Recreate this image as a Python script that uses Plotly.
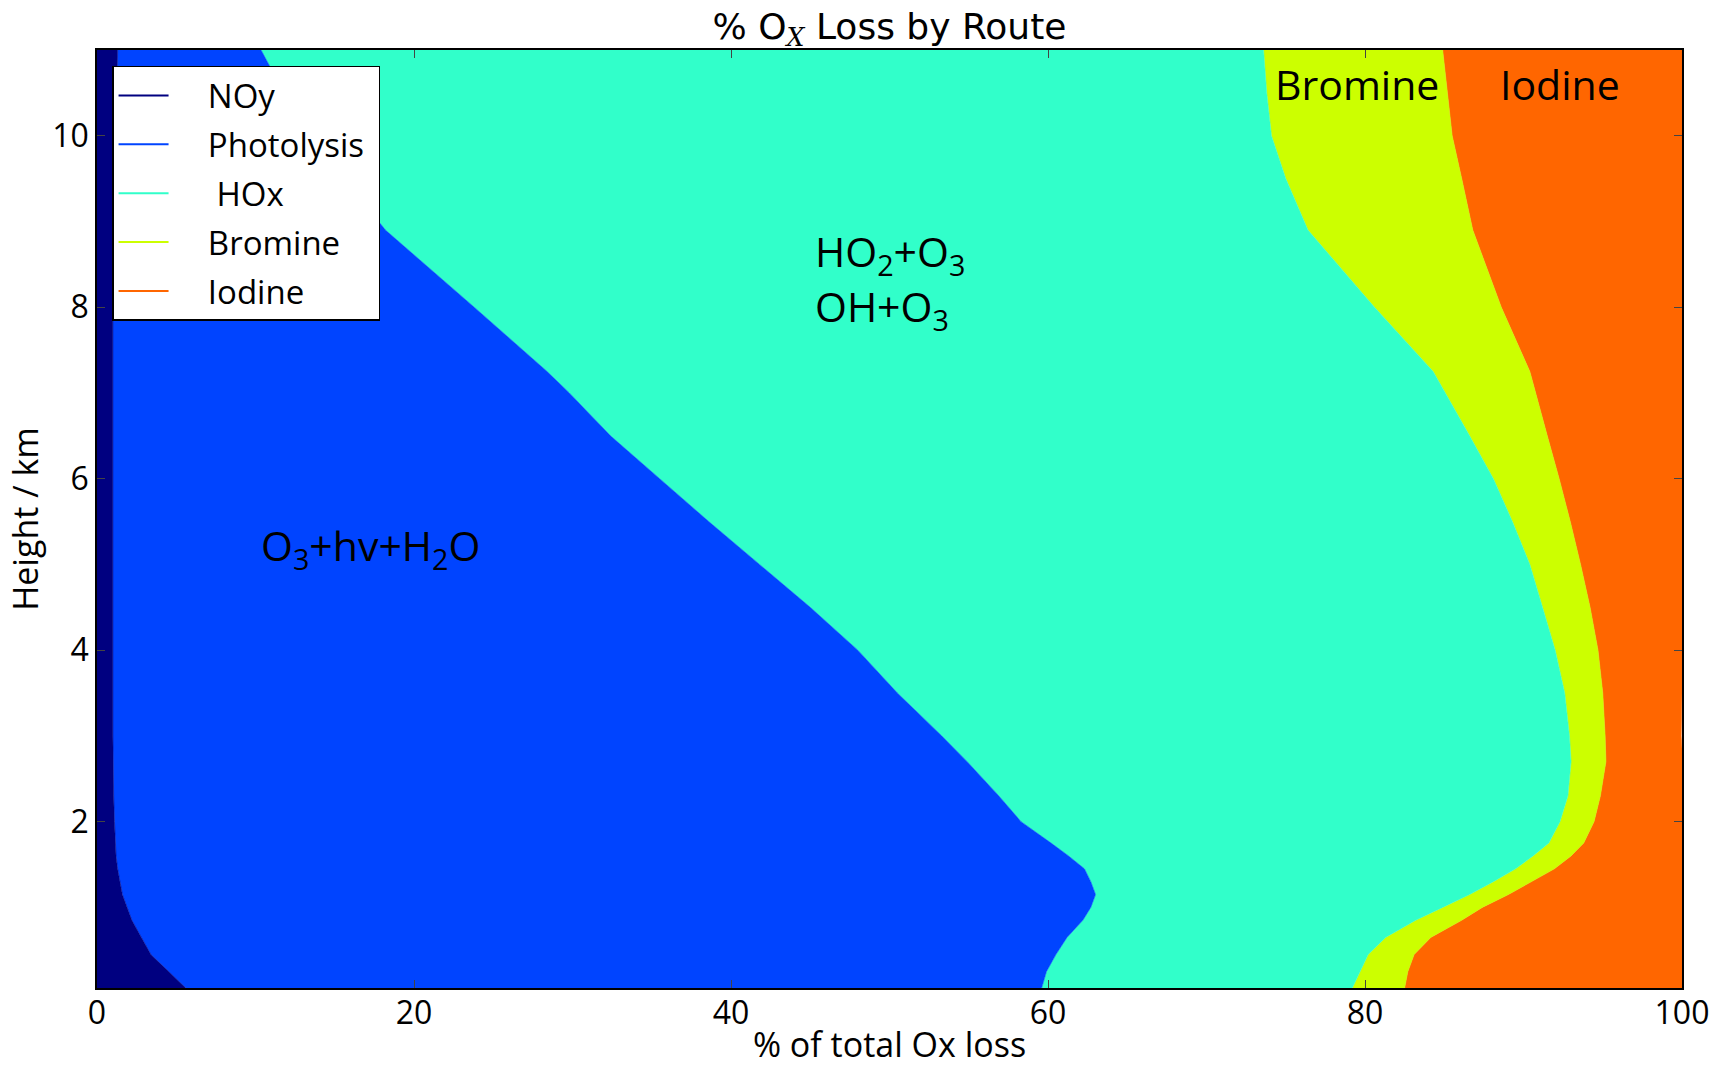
import plotly.graph_objects as go

# Heights (km)
heights = [0.06, 0.25, 0.45, 0.65, 0.85, 1.0, 1.15, 1.3, 1.45, 1.6, 1.75, 2.0, 2.3, 2.7, 3.0,
           3.5, 4.0, 4.5, 5.0, 5.5, 6.0, 6.5, 7.0, 7.25, 8.0, 8.9, 9.5, 10.0, 10.5, 11.0]

# % of total Ox loss by route
noy = [5.6, 4.5, 3.4, 2.8, 2.2, 1.9, 1.6, 1.45, 1.3, 1.2, 1.15, 1.1, 1.05, 1.0, 1.0,
       1.0, 1.0, 1.0, 1.0, 1.0, 1.0, 1.0, 1.0, 1.0, 1.0, 1.1, 1.15, 1.2, 1.25, 1.3]
photolysis = [54.0, 55.4, 57.1, 58.4, 60.0, 60.8, 61.4, 61.25, 61.0, 60.1, 59.05, 57.2, 55.85, 53.9, 52.3,
              49.5, 47.0, 44.0, 40.8, 37.6, 34.5, 31.4, 28.8, 27.4, 22.8, 17.1, 14.45, 12.3, 10.55, 9.05]
hox = [19.6, 19.8, 19.7, 20.1, 21.0, 22.2, 23.6, 25.4, 27.2, 29.3, 31.4, 34.0, 35.9, 38.1, 39.6,
       42.1, 44.0, 46.2, 48.6, 50.7, 52.6, 54.2, 55.3, 55.9, 56.8, 58.2, 59.4, 60.6, 62.0, 63.25]
bromine = [3.3, 3.0, 2.9, 2.85, 2.9, 2.5, 2.45, 2.4, 2.45, 2.4, 2.2, 2.15, 2.05, 2.2, 2.25,
           2.4, 2.7, 3.0, 3.2, 3.65, 4.15, 4.9, 5.65, 6.1, 8.0, 10.4, 11.1, 11.4, 11.4, 11.3]
iodine = [17.5, 17.3, 16.9, 15.85, 13.9, 12.6, 10.95, 9.5, 8.05, 7.0, 6.2, 5.55, 5.15, 4.85, 4.8,
          5.0, 5.3, 5.8, 6.4, 7.05, 7.75, 8.5, 9.25, 9.6, 11.4, 13.2, 13.93, 14.5, 14.8, 15.1]

series_names = ["NOy", "Photolysis", "HOx", "Bromine", "Iodine"]
series_values = [noy, photolysis, hox, bromine, iodine]
colors = ["#000080", "#0044ff", "#31ffca", "#ccff00", "#ff6600"]

x_ticks = [0, 20, 40, 60, 80, 100]
y_ticks = [2, 4, 6, 8, 10]

FONT = "Open Sans"
NB = "\u00a0"

fig = go.Figure()
for name, vals, col in zip(series_names, series_values, colors):
    fig.add_trace(go.Scatter(
        x=vals, y=heights, name=name, mode="lines",
        stackgroup="one", orientation="h",
        line=dict(width=0.6, color=col), fillcolor=col,
        showlegend=False, hoverinfo="skip",
    ))
for name, col in zip(series_names, colors):
    lead = NB * 4 + (NB if name == "HOx" else "")
    fig.add_trace(go.Scatter(
        x=[None], y=[None], name=lead + name + NB, mode="lines",
        line=dict(width=2, color=col), legendgroup=name, showlegend=True,
    ))

annots = [
    dict(text="Bromine", x=79.5, y=10.6, xanchor="center", yanchor="middle"),
    dict(text="Iodine", x=92.3, y=10.6, xanchor="center", yanchor="middle"),
    dict(text="HO<sub>2</sub>+O<sub>3</sub>", x=45.2, y=8.63, xanchor="left", yanchor="middle"),
    dict(text="OH+O<sub>3</sub>", x=45.2, y=7.98, xanchor="left", yanchor="middle"),
    dict(text="O<sub>3</sub>+hv+H<sub>2</sub>O", x=10.2, y=5.2,
         xanchor="left", yanchor="middle"),
]
for a in annots:
    a.update(xref="x", yref="y", showarrow=False,
             font=dict(family=FONT, size=41, color="black"))

fig.update_layout(
    width=1727, height=1067,
    margin=dict(l=97, r=45, t=50, b=79),
    paper_bgcolor="white", plot_bgcolor="white",
    font=dict(family=FONT, size=32, color="black"),
    annotations=annots,
    title=dict(text="% O<sub><i><span style='font-family:DejaVu Serif'>X</span></i></sub> Loss by Route",
               x=0.5, xref="paper",
               y=1 - 26 / 1067, yref="container", xanchor="center", yanchor="middle",
               font=dict(size=36, family="DejaVu Sans")),
    xaxis=dict(range=[0, 100], tickvals=x_ticks, ticks="inside", ticklen=8,
               showline=True, linecolor="black", linewidth=1.5, mirror="ticks",
               showgrid=False, zeroline=False, automargin=False,
               ticklabelstandoff=-4, tickfont=dict(size=32),
               title=dict(text="% of total Ox loss", standoff=5, font=dict(size=34))),
    yaxis=dict(range=[0.06, 11], tickvals=y_ticks, ticks="inside", ticklen=8,
               showline=True, linecolor="black", linewidth=1.5, mirror="ticks",
               showgrid=False, zeroline=False, automargin=False,
               tickfont=dict(size=32),
               title=dict(text="Height / km", standoff=3, font=dict(size=34))),
    legend=dict(x=0.0095, y=0.983, xanchor="left", yanchor="top",
                bgcolor="white", bordercolor="black", borderwidth=1.5,
                font=dict(size=33, family=FONT), tracegroupgap=3, itemwidth=50),
    showlegend=True,
)

fig.write_html("out.html")
